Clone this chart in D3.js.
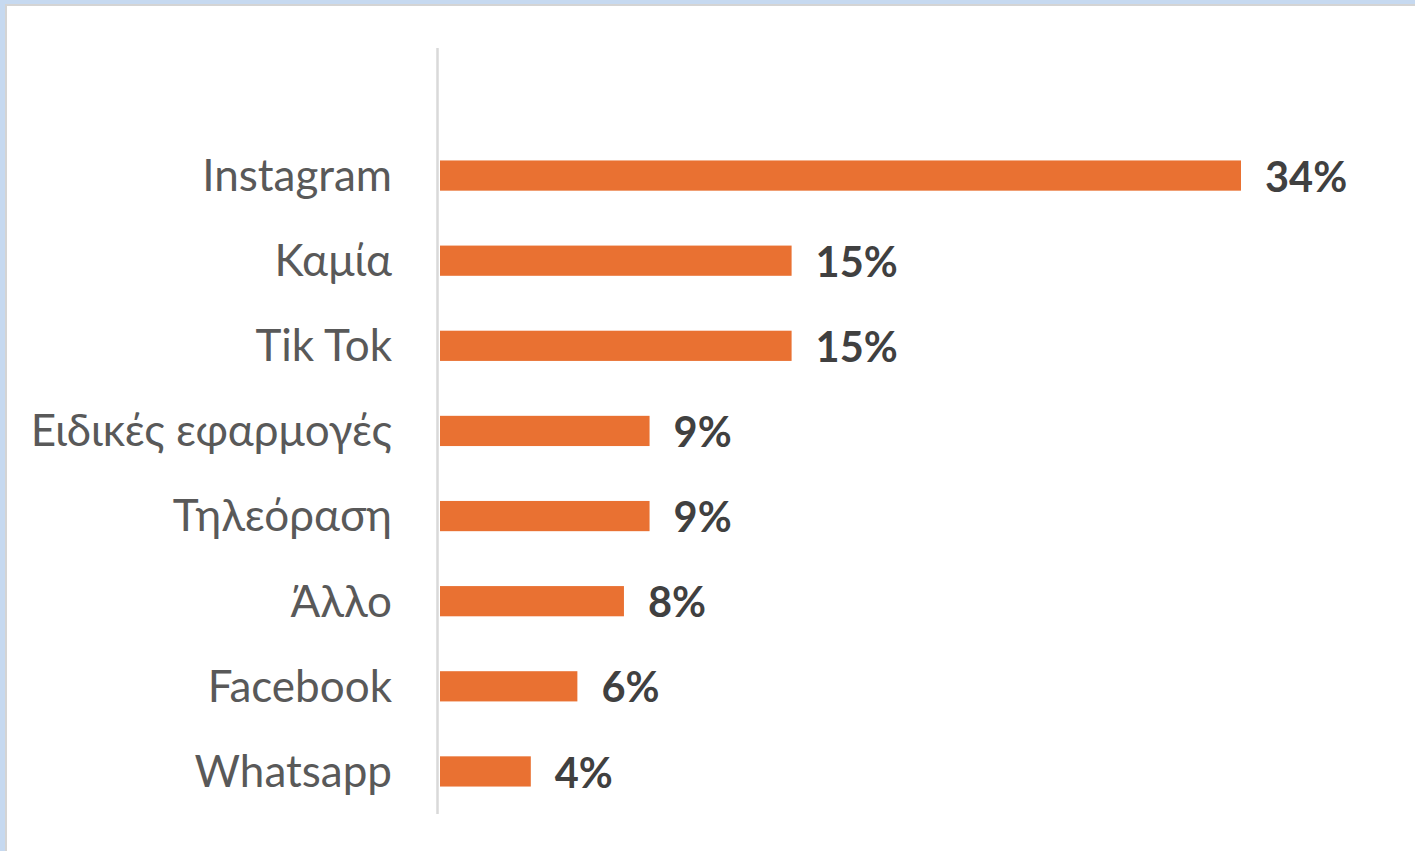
<!DOCTYPE html>
<html>
<head>
<meta charset="utf-8">
<script src="https://cdn.jsdelivr.net/npm/d3@7"></script>
<style>
  html, body { margin: 0; padding: 0; background: #c6d9f0; }
  svg { display: block; }
</style>
</head>
<body>
<svg id="chart" width="1415" height="851"></svg>
<script>
const categories = ["Instagram", "Καμία", "Tik Tok", "Ειδικές εφαρμογές", "Τηλεόραση", "Άλλο", "Facebook", "Whatsapp"];
const values = [34.4, 15.1, 15.1, 9.0, 9.0, 7.9, 5.9, 3.9];
const valueLabels = ["34%", "15%", "15%", "9%", "9%", "8%", "6%", "4%"];

const svg = d3.select("#chart");
const W = 1415, H = 851;

// panel
svg.append("rect").attr("x", 5).attr("y", 4).attr("width", W - 5).attr("height", H - 4).attr("fill", "#d4d4d4");
svg.append("rect").attr("x", 7).attr("y", 6).attr("width", W - 7).attr("height", H - 6).attr("fill", "#ffffff");

const x0 = 440;
const x = d3.scaleLinear().domain([0, 34.4]).range([x0, 1241]);
const y = d3.scaleBand().domain(categories).range([133, 814]).paddingInner(0.645).paddingOuter(0.3225);

const data = categories.map((c, i) => ({ c, v: values[i], l: valueLabels[i] }));

// bars
svg.append("g").selectAll("rect").data(data).join("rect")
  .attr("x", x(0))
  .attr("y", d => y(d.c))
  .attr("width", d => x(d.v) - x(0))
  .attr("height", y.bandwidth())
  .attr("fill", "#e97132");

// axis line
svg.append("line").attr("x1", 437.5).attr("x2", 437.5).attr("y1", 48).attr("y2", 814)
  .attr("stroke", "#d9d9d9").attr("stroke-width", 2.5);

// category labels
const yAxis = d3.axisLeft(y).tickSize(0).tickPadding(0);
const ga = svg.append("g").attr("transform", "translate(392,0)").call(yAxis);
ga.select(".domain").remove();
ga.selectAll("text")
  .attr("font-family", "Lato, 'Open Sans', sans-serif")
  .attr("font-size", 44)
  .attr("fill", "#595959")
  .attr("dy", "0.35em");

// value labels
svg.append("g").selectAll("text").data(data).join("text")
  .attr("x", d => x(d.v) + 24)
  .attr("y", d => y(d.c) + y.bandwidth() / 2)
  .attr("dy", "0.39em")
  .attr("font-family", "Lato, 'Open Sans', sans-serif")
  .attr("font-weight", "bold")
  .attr("font-size", 41.5)
  .attr("fill", "#404040")
  .text(d => d.l);
</script>
</body>
</html>
